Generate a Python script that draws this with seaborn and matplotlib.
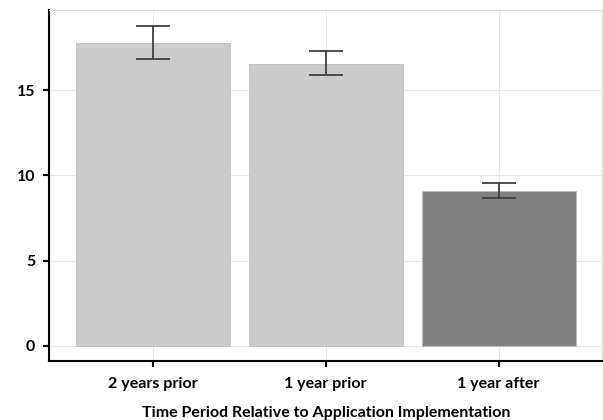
import matplotlib
matplotlib.use("Agg")
import matplotlib.pyplot as plt
import seaborn as sns
import pandas as pd

categories = ["2 years prior", "1 year prior", "1 year after"]
values = [17.75, 16.55, 9.08]
err_low = [16.85, 15.9, 8.7]
err_high = [18.75, 17.3, 9.57]
bar_colors = ["#cccccc", "#cccccc", "#808080"]
y_ticks = [0, 5, 10, 15]
x_label = "Time Period Relative to Application Implementation"

sns.set_theme(style="white")
plt.rcParams["font.family"] = ["Lato", "DejaVu Sans"]

df = pd.DataFrame({"period": categories, "value": values})

fig = plt.figure(figsize=(6.03, 4.2), dpi=100)
ax = fig.add_axes([0.0813, 0.1405, 0.9177, 0.8355])

sns.barplot(data=df, x="period", y="value", hue="period",
            palette=dict(zip(categories, bar_colors)), order=categories,
            width=0.89, errorbar=None, legend=False, ax=ax,
            edgecolor="#bdbdbd", linewidth=0.6, saturation=1, zorder=2)

yerr = [[v - lo for v, lo in zip(values, err_low)],
        [hi - v for v, hi in zip(values, err_high)]]
ax.errorbar(categories, values, yerr=yerr, fmt="none", ecolor="#404040",
            elinewidth=1.3, capsize=12.2, capthick=1.3, zorder=3)

ax.set_xlim(-0.6, 2.6)
ax.set_ylim(-0.88, 19.7)
ax.set_yticks(y_ticks)
ax.set_yticklabels([str(t) for t in y_ticks])

ax.grid(True, color="#e6e6e6", linewidth=0.8, zorder=0)
ax.set_axisbelow(True)

for side in ["top", "right"]:
    ax.spines[side].set_visible(True)
    ax.spines[side].set_color("#dddddd")
    ax.spines[side].set_linewidth(0.8)
for side in ["left", "bottom"]:
    ax.spines[side].set_visible(True)
    ax.spines[side].set_color("black")
    ax.spines[side].set_linewidth(1.5)

ax.tick_params(axis="both", which="major", direction="out", length=4,
               width=1.5, color="black", labelsize=11.5, pad=6,
               bottom=True, left=True)
ax.tick_params(axis="x", pad=7.5)
for lbl in ax.get_xticklabels() + ax.get_yticklabels():
    lbl.set_fontweight("bold")
    lbl.set_color("black")

ax.set_xlabel(x_label, fontsize=11.5, fontweight="bold", color="black", labelpad=11)
ax.set_ylabel("")

fig.savefig("out.png", dpi=100)
